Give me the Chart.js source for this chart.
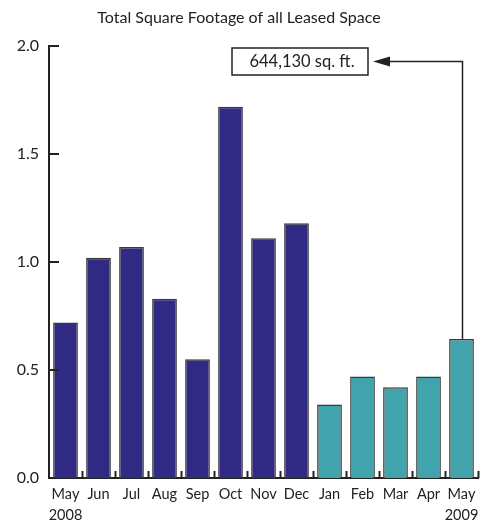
<!DOCTYPE html>
<html>
<head>
<meta charset="utf-8">
<script src="https://cdn.jsdelivr.net/npm/chart.js@4"></script>
<style>
  html, body { margin: 0; padding: 0; background: #fff; }
  #wrap { width: 487px; height: 520px; }
</style>
</head>
<body>
<div id="wrap"><canvas id="leased-chart"></canvas></div>
<script>
// Datos del gráfico (millones de pies cuadrados)
const months = ['May', 'Jun', 'Jul', 'Aug', 'Sep', 'Oct', 'Nov', 'Dec', 'Jan', 'Feb', 'Mar', 'Apr', 'May'];
const yearLabels = ['2008', '', '', '', '', '', '', '', '', '', '', '', '2009'];
const leasedValues = [0.72, 1.02, 1.07, 0.83, 0.55, 1.72, 1.11, 1.18, 0.34, 0.47, 0.42, 0.47, 0.644];
const yTicks = [0, 0.5, 1.0, 1.5, 2.0];
const calloutText = '644,130 sq. ft.';

const color2008 = '#312A84';
const color2009 = '#41A4AC';
const inkColor = '#222';
const fontFamily = 'Lato, "Open Sans", sans-serif';

const labels = months.map((m, i) => yearLabels[i] ? [m, yearLabels[i]] : m);
const barColors = yearLabels.map((y, i) => i < 8 ? color2008 : color2009);

// Marcas de ejes hacia dentro y nota con flecha
const axisMarks = {
  id: 'axisMarks',
  afterDatasetsDraw(chart) {
    const ctx = chart.ctx;
    const x = chart.scales.x;
    const y = chart.scales.y;
    const area = chart.chartArea;
    ctx.save();
    ctx.strokeStyle = inkColor;
    ctx.lineWidth = 2;

    // marcas entre categorías
    for (let i = 1; i <= months.length; i++) {
      const px = Math.round(x.getPixelForValue(i - 0.5)) + 0.5;
      ctx.beginPath();
      ctx.moveTo(px, area.bottom);
      ctx.lineTo(px, area.bottom - 7);
      ctx.stroke();
    }

    // marcas del eje y
    yTicks.forEach(v => {
      if (v === 0) return;
      const py = Math.round(y.getPixelForValue(v));
      ctx.beginPath();
      ctx.moveTo(area.left, py);
      ctx.lineTo(area.left + 10, py);
      ctx.stroke();
    });

    // nota del último mes
    const last = chart.getDatasetMeta(0).data[months.length - 1];
    const lineY = Math.round(y.getPixelForValue(1.93)) + 0.5;
    const boxRight = 368;
    const boxLeft = 232;
    const boxH = 27;

    ctx.lineWidth = 1.5;
    ctx.strokeRect(boxLeft, lineY - boxH / 2, boxRight - boxLeft, boxH);
    ctx.font = '16.5px ' + fontFamily;
    ctx.fillStyle = inkColor;
    ctx.textAlign = 'center';
    ctx.textBaseline = 'middle';
    ctx.fillText(calloutText, (boxLeft + boxRight) / 2 + 2, lineY);

    const lx = Math.round(last.x) + 0.5;
    ctx.beginPath();
    ctx.moveTo(lx, last.y);
    ctx.lineTo(lx, lineY);
    ctx.lineTo(boxRight + 20, lineY);
    ctx.stroke();

    ctx.beginPath();
    ctx.moveTo(boxRight + 5, lineY);
    ctx.lineTo(boxRight + 22, lineY - 5);
    ctx.lineTo(boxRight + 22, lineY + 5);
    ctx.closePath();
    ctx.fill();
    ctx.restore();
  }
};

const chart = new Chart(document.getElementById('leased-chart').getContext('2d'), {
  type: 'bar',
  data: {
    labels: labels,
    datasets: [{
      label: 'Leased space',
      data: leasedValues,
      backgroundColor: barColors,
      borderColor: '#3a3a3a',
      borderWidth: 1.5,
      barPercentage: 0.75,
      categoryPercentage: 1.0
    }]
  },
  options: {
    responsive: true,
    maintainAspectRatio: false,
    animation: false,
    layout: {
      padding: { left: 0, right: 9, top: 0, bottom: 0 }
    },
    plugins: {
      legend: { display: false },
      tooltip: { enabled: false },
      title: {
        display: true,
        text: 'Total Square Footage of all Leased Space',
        color: inkColor,
        font: { family: fontFamily, size: 16, weight: 'normal' },
        padding: { top: 8, bottom: 19 }
      }
    },
    scales: {
      x: {
        offset: true,
        grid: { display: false, drawTicks: false },
        border: { display: true, color: inkColor, width: 2 },
        afterFit(scale) { scale.height = 42; },
        ticks: {
          color: inkColor,
          padding: 6,
          maxRotation: 0,
          autoSkip: false,
          font: { family: fontFamily, size: 14.5, lineHeight: 1.45 }
        }
      },
      y: {
        min: 0,
        max: 2,
        grid: { display: false, drawTicks: false },
        border: { display: true, color: inkColor, width: 2 },
        afterFit(scale) { scale.width = 49; },
        ticks: {
          stepSize: 0.5,
          color: inkColor,
          padding: 10,
          font: { family: fontFamily, size: 16 },
          callback: v => Number(v).toFixed(1)
        }
      }
    }
  },
  plugins: [axisMarks]
});
</script>
</body>
</html>
